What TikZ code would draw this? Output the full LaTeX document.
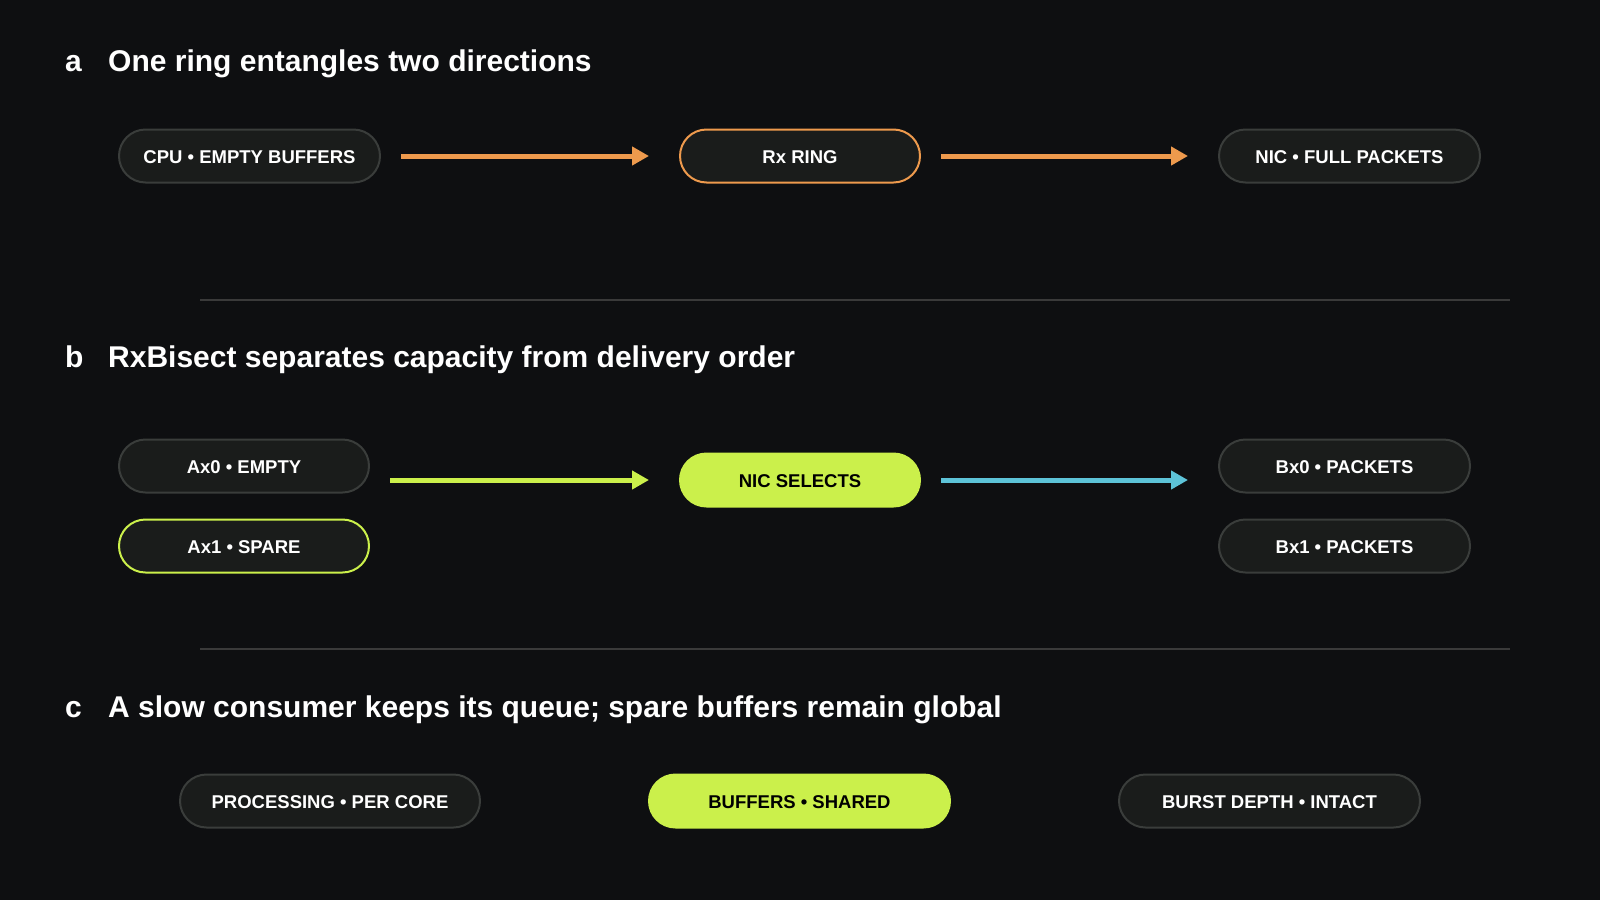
\documentclass[tikz,border=0pt]{standalone}
\usepackage{fontspec}
\setmainfont{Liberation Sans}
\usetikzlibrary{arrows.meta}
\usetikzlibrary{positioning}

\definecolor{bgdark}{HTML}{0E0F11}
\definecolor{pillfill}{HTML}{1A1C1B}
\definecolor{pillline}{HTML}{3A3D3B}
\definecolor{ringorange}{HTML}{EE9A4D}
\definecolor{nicgreen}{HTML}{CBF04B}
\definecolor{flowcyan}{HTML}{5DC3D8}
\definecolor{ruleline}{HTML}{3A3A3A}

\tikzset{
    pill/.style={draw=pillline, fill=pillfill, line width=2pt, rounded corners=26.5pt,
        minimum height=53pt, inner sep=0pt, text=white, text height=15pt, text depth=0pt,
        font=\bfseries\fontsize{18.5}{20}\selectfont},
    hotpill/.style={pill, draw=nicgreen, fill=nicgreen, text=black},
    flow/.style={line width=5pt, -{Triangle[length=17pt,width=18pt]}, shorten <=20pt, shorten >=30pt},
    panel/.style={anchor=base west, text=white, font=\bfseries\fontsize{30}{34}\selectfont, inner sep=0pt}
}

\begin{document}
\begin{tikzpicture}[x=1pt,y=-1pt]
    \fill[bgdark] (0,0) rectangle (1600,900);

    % a
    \node[panel] (taglabel-a) at (65,71) {a};
    \node[panel] (title-a) at (108,71) {One ring entangles two directions};
    \node[pill, minimum width=261pt] (cpu) at (249.5,156) {CPU • EMPTY BUFFERS};
    \node[pill, draw=ringorange, minimum width=240pt] (rxring) at (800,156) {Rx RING};
    \node[pill, minimum width=261pt] (nicfull) at (1349.5,156) {NIC • FULL PACKETS};
    \draw[flow, ringorange] (cpu.east) -- (rxring.west);
    \draw[flow, ringorange] (rxring.east) -- (nicfull.west);

    \draw[ruleline, line width=2pt] (200,300) -- (1510,300);

    % b
    \node[panel] (taglabel-b) at (65,367) {b};
    \node[panel] (title-b) at (108,367) {RxBisect separates capacity from delivery order};
    \node[pill, minimum width=250pt] (ax0) at (244,466) {Ax0 • EMPTY};
    \node[pill, draw=nicgreen, minimum width=250pt] (ax1) at (244,546) {Ax1 • SPARE};
    \node[hotpill, minimum width=240pt] (select) at (800,480) {NIC SELECTS};
    \node[pill, minimum width=251pt] (bx0) at (1344.5,466) {Bx0 • PACKETS};
    \node[pill, minimum width=251pt] (bx1) at (1344.5,546) {Bx1 • PACKETS};
    \draw[flow, nicgreen] (ax0.east |- select.west) -- (select.west);
    \draw[flow, flowcyan] (select.east) -- (bx0.west |- select.east);

    \draw[ruleline, line width=2pt] (200,649) -- (1510,649);

    % c
    \node[panel] (taglabel-c) at (65,717) {c};
    \node[panel] (title-c) at (108,717) {A slow consumer keeps its queue; spare buffers remain global};
    \node[pill, minimum width=300pt] (percore) at (330,801) {PROCESSING • PER CORE};
    \node[hotpill, minimum width=301pt] (shared) at (799.5,801) {BUFFERS • SHARED};
    \node[pill, minimum width=301pt] (burst) at (1269.5,801) {BURST DEPTH • INTACT};
\end{tikzpicture}
\end{document}
